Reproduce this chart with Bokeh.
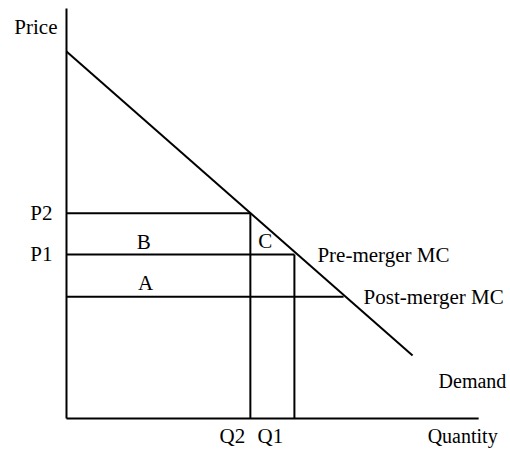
from bokeh.plotting import figure
from bokeh.models import Range1d
from bokeh.core.properties import value
from bokeh.embed import file_html
from bokeh.resources import INLINE

# ---- data (economic units) ----
demand_q = [0.0, 94.3]
demand_p = [100.0, 17.2]
P2 = 55.9
P1 = 44.7
MC_post = 33.2
Q2 = 50.1
Q1 = 62.1
Q_post = 75.5
Q_max = 112.3
P_max = 111.7

price_labels = ["P2", "P1"]
price_values = [P2, P1]
qty_labels = ["Q2", "Q1"]
qty_values = [Q2, Q1]

FONT = value("Liberation Serif")
FS = "21px"

p = figure(width=510, height=452, output_backend="svg", toolbar_location=None,
           x_range=Range1d(-17.98, 120.98), y_range=Range1d(-9.26, 113.9),
           min_border=0, outline_line_color=None)
p.axis.visible = False
p.grid.visible = False
p.background_fill_color = "white"
p.border_fill_color = "white"

lw = 2
col = "black"
# axes
p.line([0, 0], [0, P_max], line_width=lw, color=col)
p.line([0, Q_max], [0, 0], line_width=lw, color=col)
# demand
p.line(demand_q, demand_p, line_width=lw, color=col)
# horizontal price lines
p.line([0, Q2], [P2, P2], line_width=lw, color=col)
p.line([0, Q1], [P1, P1], line_width=lw, color=col)
p.line([0, Q_post], [MC_post, MC_post], line_width=lw, color=col)
# vertical quantity lines
p.line([Q2, Q2], [0, P2], line_width=lw, color=col)
p.line([Q1, Q1], [0, P1], line_width=lw, color=col)

def label(x, y, t, align="left", dx=0, dy=0, fs=FS):
    p.text(x=[x], y=[y], text=[t], text_font=FONT, text_font_size=fs,
           text_align=align, text_baseline="middle", x_offset=dx, y_offset=dy,
           text_color=col)

label(0, P_max, "Price", align="right", dx=-9, dy=18)
for t, v in zip(price_labels, price_values):
    label(0, v, t, align="right", dx=-14, dy=0)
label(Q2, 0, qty_labels[0], align="center", dx=-18, dy=17)
label(Q1, 0, qty_labels[1], align="center", dx=-24, dy=17)
label(Q_max, 0, "Quantity", align="right", dx=19, dy=17, fs="20px")
label(Q2 * 0.42, P1, "B", align="center", dy=-12)
label(Q2 * 0.43, MC_post, "A", align="center", dy=-14)
label(Q2, P1, "C", align="center", dx=15, dy=-13)
label(Q1, P1, "Pre-merger MC", dx=23, dy=1)
label(Q_post, MC_post, "Post-merger MC", dx=20, dy=0)
label(demand_q[1], demand_p[1], "Demand", dx=26, dy=26, fs="20px")

open("out.html", "w").write(file_html(p, INLINE))
